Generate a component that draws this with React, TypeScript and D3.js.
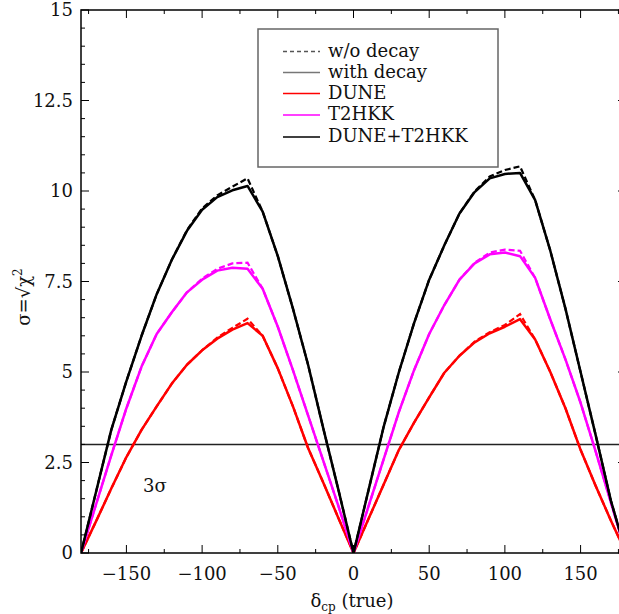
import React from 'react';
import * as d3 from 'd3';

const deltaCP = [-180, -170, -160, -150, -140, -130, -120, -110, -100, -90, -80, -70, -60, -50, -40, -30, -20, -10, 0,
  10, 20, 30, 40, 50, 60, 70, 80, 90, 100, 110, 120, 130, 140, 150, 160, 170, 180];

// with decay (solid)
const duneDecay = [0, 0.88, 1.78, 2.65, 3.4, 4.05, 4.68, 5.2, 5.6, 5.92, 6.17, 6.35, 6.0, 5.1, 4.05, 2.9, 1.95, 0.97, 0,
  0.95, 1.9, 2.85, 3.6, 4.3, 4.98, 5.45, 5.82, 6.07, 6.25, 6.46, 5.9, 5.0, 4.0, 2.85, 1.85, 0.9, 0];
const t2hkkDecay = [0, 1.35, 2.7, 4.0, 5.15, 6.05, 6.65, 7.2, 7.55, 7.8, 7.88, 7.85, 7.3, 6.25, 5.05, 3.8, 2.55, 1.3, 0,
  1.3, 2.6, 3.9, 5.05, 6.05, 6.85, 7.55, 8.0, 8.25, 8.3, 8.2, 7.6, 6.45, 5.35, 4.15, 2.8, 1.4, 0];
const combDecay = [0, 1.7, 3.4, 4.75, 6.0, 7.15, 8.1, 8.9, 9.48, 9.83, 10.02, 10.14, 9.43, 8.2, 6.75, 5.2, 3.45, 1.75, 0,
  1.75, 3.5, 5.0, 6.35, 7.55, 8.5, 9.38, 9.97, 10.35, 10.47, 10.5, 9.75, 8.35, 6.75, 5.0, 3.25, 1.45, 0];

// without decay (dashed)
const duneNoDecay = [0, 0.88, 1.78, 2.65, 3.4, 4.05, 4.68, 5.2, 5.6, 5.95, 6.22, 6.47, 6.0, 5.1, 4.05, 2.9, 1.95, 0.97, 0,
  0.95, 1.9, 2.85, 3.6, 4.3, 4.98, 5.45, 5.84, 6.1, 6.3, 6.6, 5.9, 5.0, 4.0, 2.85, 1.85, 0.9, 0];
const t2hkkNoDecay = [0, 1.35, 2.7, 4.0, 5.15, 6.05, 6.65, 7.2, 7.58, 7.85, 8.0, 8.02, 7.3, 6.25, 5.05, 3.8, 2.55, 1.3, 0,
  1.3, 2.6, 3.9, 5.05, 6.05, 6.85, 7.55, 8.02, 8.3, 8.38, 8.35, 7.6, 6.45, 5.35, 4.15, 2.8, 1.4, 0];
const combNoDecay = [0, 1.7, 3.4, 4.75, 6.0, 7.15, 8.1, 8.92, 9.52, 9.88, 10.12, 10.35, 9.43, 8.2, 6.75, 5.2, 3.45, 1.75, 0,
  1.75, 3.5, 5.0, 6.35, 7.55, 8.5, 9.38, 9.99, 10.4, 10.58, 10.68, 9.75, 8.35, 6.75, 5.0, 3.25, 1.45, 0];

const xMajorTicks = [-150, -100, -50, 0, 50, 100, 150];
const xMinorTicks = [-175, -125, -75, -25, 25, 75, 125, 175];
const yMajorTicks = [0, 2.5, 5, 7.5, 10, 12.5, 15];
const yTickLabels = ['0', '2.5', '5', '7.5', '10', '12.5', '15'];
const threeSigma = 3;

const legendItems = [
  { label: 'w/o decay', color: '#555', dash: '4,3' },
  { label: 'with decay', color: '#777', dash: '' },
  { label: 'DUNE', color: '#ff0000', dash: '' },
  { label: 'T2HKK', color: '#ff00ff', dash: '' },
  { label: 'DUNE+T2HKK', color: '#000000', dash: '' },
];

const FONT = 'DejaVu Serif';

export default function App() {
  const W = 619, H = 614;
  const L = 81, R = 626, T = 10, B = 553;
  const x = d3.scaleLinear().domain([-180, 180]).range([L, R]);
  const y = d3.scaleLinear().domain([0, 15]).range([B, T]);
  const line = d3.line<number>().x((_, i) => x(deltaCP[i])).y(d => y(d));

  const yMinor = d3.range(0, 15.01, 0.5).filter(v => Math.abs(v / 2.5 - Math.round(v / 2.5)) > 1e-6);

  const series = [
    { s: duneDecay, d: duneNoDecay, c: '#ff0000' },
    { s: t2hkkDecay, d: t2hkkNoDecay, c: '#ff00ff' },
    { s: combDecay, d: combNoDecay, c: '#000000' },
  ];

  const legendRows = [50.5, 71.5, 92.5, 114, 136];

  return (
    <svg width={W} height={H} style={{ position: 'absolute', left: 0, top: 0, background: '#fff' }}
      fontFamily={FONT}>
      <defs>
        <clipPath id="plotclip"><rect x={L} y={T} width={R - L} height={B - T} /></clipPath>
      </defs>
      <rect x={0} y={0} width={W} height={H} fill="#fff" />
      {/* 3 sigma line */}
      <line x1={L} x2={R} y1={y(threeSigma)} y2={y(threeSigma)} stroke="#222" strokeWidth={1.5} />
      <g clipPath="url(#plotclip)">
        {series.map((sr, i) => (
          <g key={i}>
            <path d={line(sr.s) || ''} fill="none" stroke={sr.c} strokeWidth={2.5} strokeLinejoin="round" />
            <path d={line(sr.d) || ''} fill="none" stroke={sr.c} strokeWidth={2.2} strokeDasharray="6,3" />
          </g>
        ))}
      </g>
      <text x={143} y={492} fontSize={18} fill="#111">3σ</text>
      {/* frame */}
      <rect x={L} y={T} width={R - L} height={B - T} fill="none" stroke="#000" strokeWidth={1.5} />
      {/* x ticks */}
      {xMajorTicks.map(v => (
        <g key={'xm' + v}>
          <line x1={x(v)} x2={x(v)} y1={B} y2={B - 8} stroke="#000" strokeWidth={1} />
          <line x1={x(v)} x2={x(v)} y1={T} y2={T + 8} stroke="#000" strokeWidth={1} />
          <text x={x(v)} y={580} fontSize={18} textAnchor="middle" fill="#111">{v < 0 ? '\u2212' + Math.abs(v) : String(v)}</text>
        </g>
      ))}
      {xMinorTicks.map(v => (
        <g key={'xn' + v}>
          <line x1={x(v)} x2={x(v)} y1={B} y2={B - 4} stroke="#000" strokeWidth={1} />
          <line x1={x(v)} x2={x(v)} y1={T} y2={T + 4} stroke="#000" strokeWidth={1} />
        </g>
      ))}
      {/* y ticks */}
      {yMajorTicks.map((v, i) => (
        <g key={'ym' + v}>
          <line x1={L} x2={L + 8} y1={y(v)} y2={y(v)} stroke="#000" strokeWidth={1} />
          <line x1={R} x2={R - 8} y1={y(v)} y2={y(v)} stroke="#000" strokeWidth={1} />
          <text x={73} y={y(v) + 6} fontSize={18} textAnchor="end" fill="#111">{yTickLabels[i]}</text>
        </g>
      ))}
      {yMinor.map(v => (
        <g key={'yn' + v}>
          <line x1={L} x2={L + 4} y1={y(v)} y2={y(v)} stroke="#000" strokeWidth={1} />
          <line x1={R} x2={R - 4} y1={y(v)} y2={y(v)} stroke="#000" strokeWidth={1} />
        </g>
      ))}
      {/* axis titles */}
      <text x={352} y={607} fontSize={18} textAnchor="middle" fill="#111">
        δ<tspan fontSize={12} dy={4}>cp</tspan><tspan dy={-4}> (true)</tspan>
      </text>
      <text transform="translate(30,297) rotate(-90)" fontSize={18} textAnchor="middle" fill="#111">
        σ=√χ<tspan fontSize={12} dy={-8}>2</tspan>
      </text>
      {/* legend */}
      <rect x={258} y={29} width={240} height={138} fill="#fff" stroke="#666" strokeWidth={1.5} />
      {legendItems.map((it, i) => (
        <g key={it.label}>
          <line x1={283} x2={320} y1={legendRows[i] + 1} y2={legendRows[i] + 1} stroke={it.color}
            strokeWidth={1.5} strokeDasharray={it.dash || undefined} />
          <text x={328} y={legendRows[i] + 6} fontSize={18} fill="#111">{it.label}</text>
        </g>
      ))}
    </svg>
  );
}
